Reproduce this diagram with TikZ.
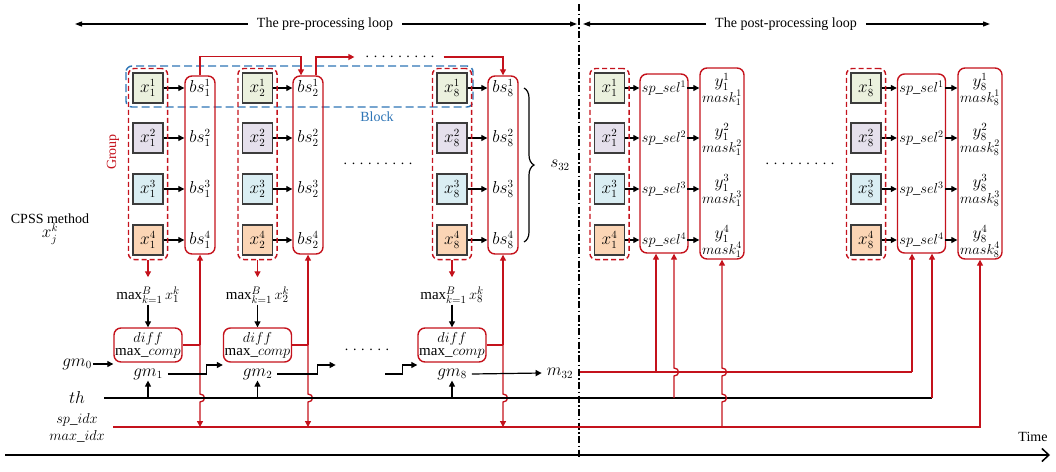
\documentclass[tikz,border=0pt]{standalone}
\usepackage{fontspec}
\setmainfont{Liberation Serif}
\usetikzlibrary{arrows.meta,fit,calc,decorations.pathreplacing}
\definecolor{cred}{RGB}{196,18,28}
\definecolor{cblue}{RGB}{46,117,182}
\definecolor{cgray}{RGB}{60,60,60}
\definecolor{fgreen}{RGB}{235,241,222}
\definecolor{fpurple}{RGB}{229,224,236}
\definecolor{fcyan}{RGB}{218,238,243}
\definecolor{forange}{RGB}{251,213,181}
\begin{document}
\begin{tikzpicture}[x=1pt,y=-1pt,
  every node/.style={font=\fontsize{14}{16}\selectfont, inner sep=1pt},
  mf/.style={font=\fontsize{16}{18}\selectfont},
  xbox/.style={draw=cgray, line width=1.1pt, minimum width=30pt, minimum height=30pt, inner sep=0pt, mf},
  grp/.style={draw=cred, line width=1.4pt, dash pattern=on 5pt off 3pt, rounded corners=6pt, inner sep=4pt},
  rbox/.style={draw=cred, line width=1.4pt, rounded corners=7pt, inner sep=0pt},
  blk/.style={draw=black, line width=1.2pt, -{Triangle[length=6pt,width=6pt]}},
  rarr/.style={draw=cred, line width=1.3pt, -{Triangle[length=6pt,width=6pt]}},
  rline/.style={draw=cred, line width=1.3pt},
  dotsrow/.style={inner sep=0pt}
]
\useasboundingbox (0,0) rectangle (1056,471);

% top loop labels
\node (pre) at (325,24) {The pre-processing loop};
\node (post) at (786,24) {The post-processing loop};
\coordinate (preL) at (75,24);
\coordinate (preR) at (577,24);
\coordinate (postL) at (583,24);
\coordinate (postR) at (990,24);
\draw[blk, -{Triangle[length=7pt,width=5pt]}] ([xshift=-8pt]pre.west) -- (preL);
\draw[blk, -{Triangle[length=7pt,width=5pt]}] ([xshift=8pt]pre.east) -- (preR);
\draw[blk, -{Triangle[length=7pt,width=5pt]}] ([xshift=-8pt]post.west) -- (postL);
\draw[blk, -{Triangle[length=7pt,width=5pt]}] ([xshift=8pt]post.east) -- (postR);

% separator and time axis
\coordinate (sepT) at (579,4);
\coordinate (sepB) at (579,458);
\draw[line width=1.3pt, dash pattern=on 7pt off 2.5pt on 1.5pt off 2.5pt] (sepT) -- (sepB);
\coordinate (tA) at (5,455);
\coordinate (tB) at (1050,455);
\draw[line width=1.5pt, -{Straight Barb[length=7pt,width=13pt]}] (tA) -- (tB);
\node (time) at (1033,437) {Time};

% block
\draw[cblue, line width=1.4pt, dash pattern=on 8pt off 4pt, rounded corners=6pt] (126,66) rectangle (473,107);
\node[text=cblue] (blocklbl) at (377,117) {Block};
\node[text=cred, rotate=90] (grplbl) at (113,152) {Group};

% left labels
\node (cpss) at (50,219) {CPSS method};
\node[mf] (xjk) at (50,234) {$x_j^k$};
\node[mf] (gm0) at (77,364) {$gm_0$};
\node[mf] (th) at (77,397) {$th$};
\node[font=\fontsize{15}{17}\selectfont] (spidx) at (77,420) {$sp\_idx$};
\node[font=\fontsize{15}{17}\selectfont] (maxidx) at (77,436) {$max\_idx$};

\coordinate (th0) at (104,398);
\coordinate (thE) at (932,398);
\coordinate (sp0) at (113,427);
\coordinate (gmrow) at (0,365);
\coordinate (m0) at (580,372);

% pre-processing columns
\foreach \j/\xc/\bc in {1/148/200, 2/257.5/308, 8/452/503} {
  \node[rbox, minimum width=30pt, minimum height=178pt] (r\j) at (\bc,165) {};
  \foreach \k/\yc/\col in {1/88/fgreen, 2/138/fpurple, 3/189/fcyan, 4/240/forange} {
    \node[xbox, fill=\col] (x\j\k) at (\xc,\yc) {$x_{\j}^{\k}$};
    \node[mf] (b\j\k) at (\bc,\yc) {$bs_{\j}^{\k}$};
    \draw[blk] (x\j\k) -- (r\j.west |- x\j\k);
  }
  \node[grp, fit=(x\j1)(x\j4)] (g\j) {};
  \node[font=\fontsize{15}{17}\selectfont] (mx\j) at (\xc,295) {$\max_{k=1}^{B} x_{\j}^{k}$};
  \draw[rarr] (g\j.south) -- ++(0,17);
  \node[rbox, minimum width=68pt, minimum height=34pt, align=center, font=\fontsize{15}{17}\selectfont] (d\j) at (\xc,345) {$diff$\\[-4pt]$\mathrm{max}\_comp$};
  \draw[blk] (mx\j) -- (d\j);
  \node[mf] (gm\j) at (\xc,374) {$gm_{\j}$};
  \draw[blk] (gm\j |- th0) -- (gm\j.south);
  \draw[rline] (d\j.east) -- (d\j.east -| r\j.south);
  \draw[rarr] (d\j.east -| r\j.south) -- (r\j.south);
  \draw[rarr] (d\j.east -| r\j.south) -- ($(r\j.south |- th0)+(0,-4)$) .. controls +(6,0) and +(6,0) .. ++(0,8) -- (r\j.south |- sp0);
}

% top red connections
\node[dotsrow] (tdots) at (400,57) {. . . . . . . . .};
\draw[rarr] (r1.north) -- ++(0,-19) -| ([xshift=-7pt]r2.north);
\draw[rarr] ([xshift=8pt]r2.north) |- ([xshift=-11pt]tdots.west);
\draw[rarr] ([xshift=9pt]tdots.east) -| (r8.north);

% dots and brace
\node[dotsrow] (mdots) at (378,164) {. . . . . . . . .};
\node[dotsrow] (pdots) at (800,164) {. . . . . . . . .};
\node[dotsrow] (gdots) at (367,350) {. . . . . .};
\draw[line width=1.2pt, decorate, decoration={brace, amplitude=10pt}] (524,88) -- (524,242);
\node[mf] (s32) at (560,165) {$s_{32}$};

% gm chain
\draw[blk] (gm0.east) -- (gm0.east -| d1.west);
\draw[blk] ([xshift=4pt]gm1.east) -| ([xshift=-16pt]d2.west |- gmrow) -- (d2.west |- gmrow);
\draw[blk] ([xshift=4pt]gm2.east) -| ([xshift=-27pt]gdots.west |- gmrow) -- ([xshift=-9pt]gdots.west |- gmrow);
\coordinate (st8) at (385,374);
\draw[blk] (st8) -| ([xshift=-15pt]d8.west |- gmrow) -- (d8.west |- gmrow);
\node[mf] (m32) at (560,373) {$m_{32}$};
\draw[blk] ([xshift=4pt]gm8.east) -- ([xshift=-4pt]m32.west);

% th line and sp line
\draw[line width=1.2pt] (th0) -- (thE);
\draw[rline] (sp0) -- (sp0 -| thE);

% post-processing columns
\foreach \j/\xc/\sc/\yc in {1/609.5/664/722, 8/866/921.5/980} {
  \node[rbox, minimum width=48pt, minimum height=179pt] (rs\j) at (\sc,163.5) {};
  \node[rbox, minimum width=44pt, minimum height=191pt] (ry\j) at (\yc,163.5) {};
  \foreach \k/\yy/\col in {1/88/fgreen, 2/138/fpurple, 3/189/fcyan, 4/240/forange} {
    \node[xbox, fill=\col] (px\j\k) at (\xc,\yy) {$x_{\j}^{\k}$};
    \node[font=\fontsize{14.5}{16}\selectfont, inner sep=0pt] (ps\j\k) at (\sc,\yy) {$sp\_sel^{\k}$};
    \node[mf, inner sep=0pt] (py\j\k) at (\yc,\yy-6) {$y_{\j}^{\k}$};
    \node[font=\fontsize{14}{16}\selectfont, inner sep=0pt] (pm\j\k) at (\yc,\yy+10) {$mask_{\j}^{\k}$};
    \draw[blk] (px\j\k) -- (rs\j.west |- px\j\k);
    \draw[blk] ([xshift=1pt]ps\j\k.east) -- (ry\j.west |- ps\j\k);
  }
  \node[grp, fit=(px\j1)(px\j4)] (pg\j) {};
}

% post connections
\draw[rline] (m0) -- ([xshift=-9.5pt]rs8.south |- m0);
\draw[rarr] ([xshift=-9.5pt]rs8.south |- m0) -- ([xshift=-9.5pt]rs8.south);
\draw[rarr] ([xshift=-8pt]rs1.south |- m0) -- ([xshift=-8pt]rs1.south);
\draw[rarr] ([xshift=10pt]rs1.south |- th0) -- ++(0,-22) .. controls +(6,0) and +(6,0) .. ++(0,-8) -- ([xshift=10pt]rs1.south);
\draw[rarr] (thE) -- (thE |- rs8.south);
\draw[rarr] (sp0 -| thE) -| (ry8.south);
\draw[rarr] (ry1.south |- sp0) -- ++(0,-25) .. controls +(6,0) and +(6,0) .. ++(0,-8) -- ++(0,-18) .. controls +(6,0) and +(6,0) .. ++(0,-8) -- (ry1.south);
\end{tikzpicture}
\end{document}
